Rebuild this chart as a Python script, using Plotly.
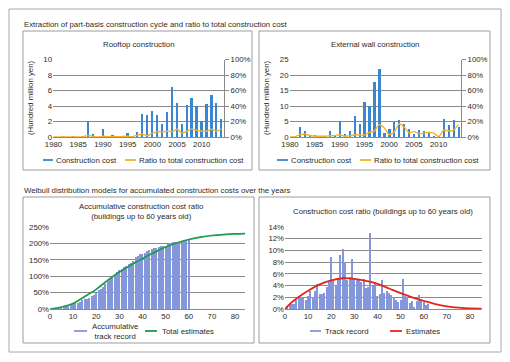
import plotly.graph_objects as go

# ---------------- data ----------------
years = list(range(1980, 2015))
roof_cost = [0, 0, 0.15, 0, 0.15, 0, 0.1, 2.1, 0.4, 0, 1.1, 0, 0.3, 0.25, 0, 0.55, 0, 0.7,
             3.05, 2.9, 3.45, 2.9, 1.7, 3.3, 6.5, 4.5, 1.8, 4.15, 5.15, 4.05, 2.15, 4.3, 5.45, 4.5, 2.45]
roof_ratio = [0, 0, 0.3, 0, 0.3, 0, 0.5, 2.0, 0.8, 0, 1.0, 0.3, 0.5, 0.3, 0.6, 1.0, 0.5, 2.5,
              3.5, 1.8, 5.0, 7.0, 6.5, 7.5, 7.0, 10.0, 5.0, 7.5, 10.5, 8.5, 7.5, 7.5, 10.0, 7.5, 10.5]
wall_cost = [0, 0, 3.5, 2.0, 0.8, 0.7, 0.6, 0.6, 2.0, 0.3, 5.2, 1.0, 2.2, 6.8, 4.3, 11.6, 10.1, 17.8,
             22.0, 1.6, 2.7, 5.0, 5.7, 4.3, 2.7, 1.1, 2.5, 2.2, 1.9, 0.3, 0.2, 6.0, 3.9, 5.6, 3.5]
wall_ratio = [0, 0.5, 3.0, 3.5, 2.0, 1.0, 1.0, 1.0, 1.5, 2.0, 3.0, 1.0, 1.5, 2.5, 3.0, 2.5, 6.0, 7.5,
              16.0, 12.0, 3.0, 6.0, 17.0, 13.0, 5.5, 7.0, 4.0, 5.0, 6.0, 5.0, 0.5, 9.0, 8.0, 9.0, 16.0]

ages = list(range(1, 61))
cum_record = [0.5, 1.3, 2.2, 3.0, 4.5, 6.7, 8.7, 10.5, 12.1, 14.3,
              17.3, 19.3, 22.3, 26.5, 29.1, 31.7, 34.5, 38.3, 43.1, 51.9,
              56.9, 60.9, 65.9, 75.1, 85.3, 93.3, 98.3, 103.7, 112.3, 117.5,
              122.7, 127.7, 132.3, 137.5, 141.1, 144.9, 157.8, 161.8, 166.4, 168.7,
              171.3, 176.2, 179.0, 182.0, 184.8, 187.2, 189.2, 190.8, 192.0, 193.6,
              198.8, 201.0, 203.0, 204.0, 205.4, 205.8, 207.2, 209.6, 211.0, 212.2]
est_age = [0, 5, 10, 15, 20, 25, 30, 35, 40, 45, 50, 55, 60, 65, 70, 75, 80, 85]
cum_est = [0, 6, 17, 38, 60, 88, 113, 134, 154, 172, 189, 202, 212, 219, 224, 227, 229, 230]

rec_age = list(range(1, 63))
ratio_record = [0.5, 0.8, 0.9, 0.8, 1.5, 2.2, 2.0, 1.8, 1.6, 2.2,
                3.0, 2.0, 3.0, 4.2, 2.6, 2.6, 2.8, 3.8, 4.8, 8.8,
                5.0, 4.0, 5.0, 9.2, 10.2, 8.0, 5.0, 5.4, 8.6, 5.2,
                5.2, 5.0, 4.6, 5.2, 3.6, 3.8, 12.9, 4.0, 4.6, 2.3,
                2.6, 4.9, 2.8, 3.0, 2.8, 2.4, 2.0, 1.6, 1.2, 1.6,
                5.2, 2.2, 2.0, 1.0, 1.4, 0.4, 1.4, 2.4, 1.4, 1.2,
                0.6, 0.9]
est_age2 = [0, 2.5, 5, 10, 15, 20, 25, 30, 35, 40, 45, 50, 55, 60, 65, 70, 75, 80, 85]
est_ratio = [0, 1.0, 1.8, 3.1, 4.2, 4.9, 5.25, 5.15, 4.8, 4.3, 3.5, 2.7, 2.0, 1.4, 0.85, 0.45, 0.22, 0.1, 0.08]

year_ticks = [1980, 1985, 1990, 1995, 2000, 2005, 2010]
age_ticks = [0, 10, 20, 30, 40, 50, 60, 70, 80]
roof_ticks = [0, 2, 4, 6, 8, 10]
wall_ticks = [0, 5, 10, 15, 20, 25]
pct_ticks = [0, 20, 40, 60, 80, 100]
cum_ticks = [0, 50, 100, 150, 200, 250]
ratio_ticks = [0, 2, 4, 6, 8, 10, 12, 14]

# ---------------- styling ----------------
W, H = 510, 362
FONT = "Liberation Sans, Arial, sans-serif"
TXT = "#2b2b2b"
FS = 7.8
BLUE = "#3A86D0"
ORANGE = "#F6B226"
BAR2 = "#8597DB"
GREEN = "#1D9A4B"
RED = "#E2261C"
GRID = "#8a8a8a"
BOX = "#9c9c9c"


def px(x):
    return x / W


def py(y):
    return 1 - y / H


def pct(vals):
    return [f"{v}%" for v in vals]


fig = go.Figure()

# Panel 1
fig.add_trace(go.Bar(x=years, y=roof_cost, xaxis="x", yaxis="y", width=0.36,
                     marker=dict(color=BLUE, line=dict(width=0)), showlegend=False))
fig.add_trace(go.Scatter(x=years, y=roof_ratio, xaxis="x", yaxis="y2", mode="lines",
                         line=dict(color=ORANGE, width=1.4, shape="spline", smoothing=0.5), showlegend=False))
# Panel 2
fig.add_trace(go.Bar(x=years, y=wall_cost, xaxis="x2", yaxis="y3", width=0.36,
                     marker=dict(color=BLUE, line=dict(width=0)), showlegend=False))
fig.add_trace(go.Scatter(x=years, y=wall_ratio, xaxis="x2", yaxis="y4", mode="lines",
                         line=dict(color=ORANGE, width=1.4, shape="spline", smoothing=0.5), showlegend=False))
# Panel 3
fig.add_trace(go.Bar(x=ages, y=cum_record, xaxis="x3", yaxis="y5", width=0.5,
                     marker=dict(color=BAR2, line=dict(width=0)), showlegend=False))
fig.add_trace(go.Scatter(x=est_age, y=cum_est, xaxis="x3", yaxis="y5", mode="lines",
                         line=dict(color=GREEN, width=1.7, shape="spline"), showlegend=False))
# Panel 4
fig.add_trace(go.Bar(x=rec_age, y=ratio_record, xaxis="x4", yaxis="y6", width=0.5,
                     marker=dict(color=BAR2, line=dict(width=0)), showlegend=False))
fig.add_trace(go.Scatter(x=est_age2, y=est_ratio, xaxis="x4", yaxis="y6", mode="lines",
                         line=dict(color=RED, width=1.8, shape="spline"), showlegend=False))

tickfont = dict(family=FONT, size=FS, color=TXT)
xcommon = dict(showgrid=False, zeroline=False, showline=True, linecolor=GRID, linewidth=1,
               ticks="", tickfont=tickfont, fixedrange=True, automargin=False)
ycommon = dict(showgrid=True, gridcolor=GRID, gridwidth=1, zeroline=False, showline=False,
               ticks="", tickfont=tickfont, fixedrange=True, automargin=False)
yright = dict(showgrid=False, zeroline=False, showline=True, linecolor=GRID, linewidth=1,
              ticks="outside", ticklen=4, tickcolor=GRID, tickfont=tickfont,
              side="right", fixedrange=True, automargin=False)

top_dom = [py(137), py(59.5)]
bot_dom = [py(309), py(227)]

fig.update_layout(
    width=W, height=H, autosize=False,
    margin=dict(l=0, r=0, t=0, b=0, pad=0),
    paper_bgcolor="white", plot_bgcolor="rgba(0,0,0,0)",
    font=dict(family=FONT, size=FS, color=TXT),
    showlegend=False, bargap=0,
    xaxis=dict(domain=[px(53), px(224)], anchor="y", range=[1979.9, 2014.5],
               tickvals=year_ticks, **xcommon),
    yaxis=dict(domain=top_dom, anchor="x", range=[0, 10], tickvals=roof_ticks, **ycommon),
    yaxis2=dict(overlaying="y", anchor="x", range=[0, 100], tickvals=pct_ticks,
                ticktext=pct(pct_ticks), **yright),
    xaxis2=dict(domain=[px(289.5), px(461)], anchor="y3", range=[1979.9, 2014.5],
                tickvals=year_ticks, **xcommon),
    yaxis3=dict(domain=top_dom, anchor="x2", range=[0, 25], tickvals=wall_ticks, **ycommon),
    yaxis4=dict(overlaying="y3", anchor="x2", range=[0, 100], tickvals=pct_ticks,
                ticktext=pct(pct_ticks), **yright),
    xaxis3=dict(domain=[px(50), px(245)], anchor="y5", range=[0, 84.3], tickvals=age_ticks, **xcommon),
    yaxis5=dict(domain=bot_dom, anchor="x3", range=[0, 250], tickvals=cum_ticks,
                ticktext=pct(cum_ticks), **ycommon),
    xaxis4=dict(domain=[px(285), px(482)], anchor="y6", range=[0, 85.2], tickvals=age_ticks, **xcommon),
    yaxis6=dict(domain=bot_dom, anchor="x4", range=[0, 14], tickvals=ratio_ticks,
                ticktext=pct(ratio_ticks), **ycommon),
)

shapes = []


def box(x0, y0, x1, y1, color=BOX):
    shapes.append(dict(type="rect", xref="paper", yref="paper", x0=px(x0), x1=px(x1),
                       y0=py(y1), y1=py(y0), line=dict(color=color, width=1), layer="below"))


box(9, 9, 501, 352, "#a8a8a8")
box(23, 31, 252, 170)
box(259, 31, 490, 170)
box(23, 197, 254, 343)
box(259, 197, 490, 343)

annotations = []


def text(x, y, s, anchor="left", size=FS, angle=0):
    annotations.append(dict(x=px(x), y=py(y), xref="paper", yref="paper", text=s, showarrow=False,
                            xanchor=anchor, yanchor="middle", textangle=angle,
                            font=dict(family=FONT, size=size, color=TXT)))


def legline(x0, x1, y, color):
    shapes.append(dict(type="line", xref="paper", yref="paper", x0=px(x0), x1=px(x1),
                       y0=py(y), y1=py(y), line=dict(color=color, width=1.8)))


text(22, 24, "Extraction of part-basis construction cycle and ratio to total construction cost")
text(22, 190, "Weibull distribution models for accumulated construction costs over the years")

text(139, 44, "Rooftop construction", "center")
text(375, 44, "External wall construction", "center")
text(141, 212, "Accumulative construction cost ratio<br>(buildings up to 60 years old)", "center")
text(383, 211, "Construction cost ratio (buildings up to 60 years old)", "center")

text(31, 98, "(Hundred million yen)", "center", angle=-90)
text(267, 98, "(Hundred million yen)", "center", angle=-90)

# legends
legline(43, 53, 160, BLUE)
text(54, 160, "Construction cost")
legline(125, 136, 160, ORANGE)
text(137, 160, "Ratio to total construction cost")
legline(277, 288, 160, BLUE)
text(289, 160, "Construction cost")
legline(360, 371, 160, ORANGE)
text(372, 160, "Ratio to total construction cost")

legline(74, 87, 331, BAR2)
text(90, 331, "Accumulative<br>track record")
legline(145, 157, 331, GREEN)
text(160, 331, "Total estimates")
legline(310, 321, 331, BAR2)
text(323, 331, "Track record")
legline(390, 402, 331, RED)
text(404, 331, "Estimates")

fig.update_layout(shapes=shapes, annotations=annotations)
fig.write_html("out.html", config={"displayModeBar": False},
               post_script="document.body.style.margin='0';document.body.style.padding='0';"
                           "document.body.style.overflow='hidden';")
